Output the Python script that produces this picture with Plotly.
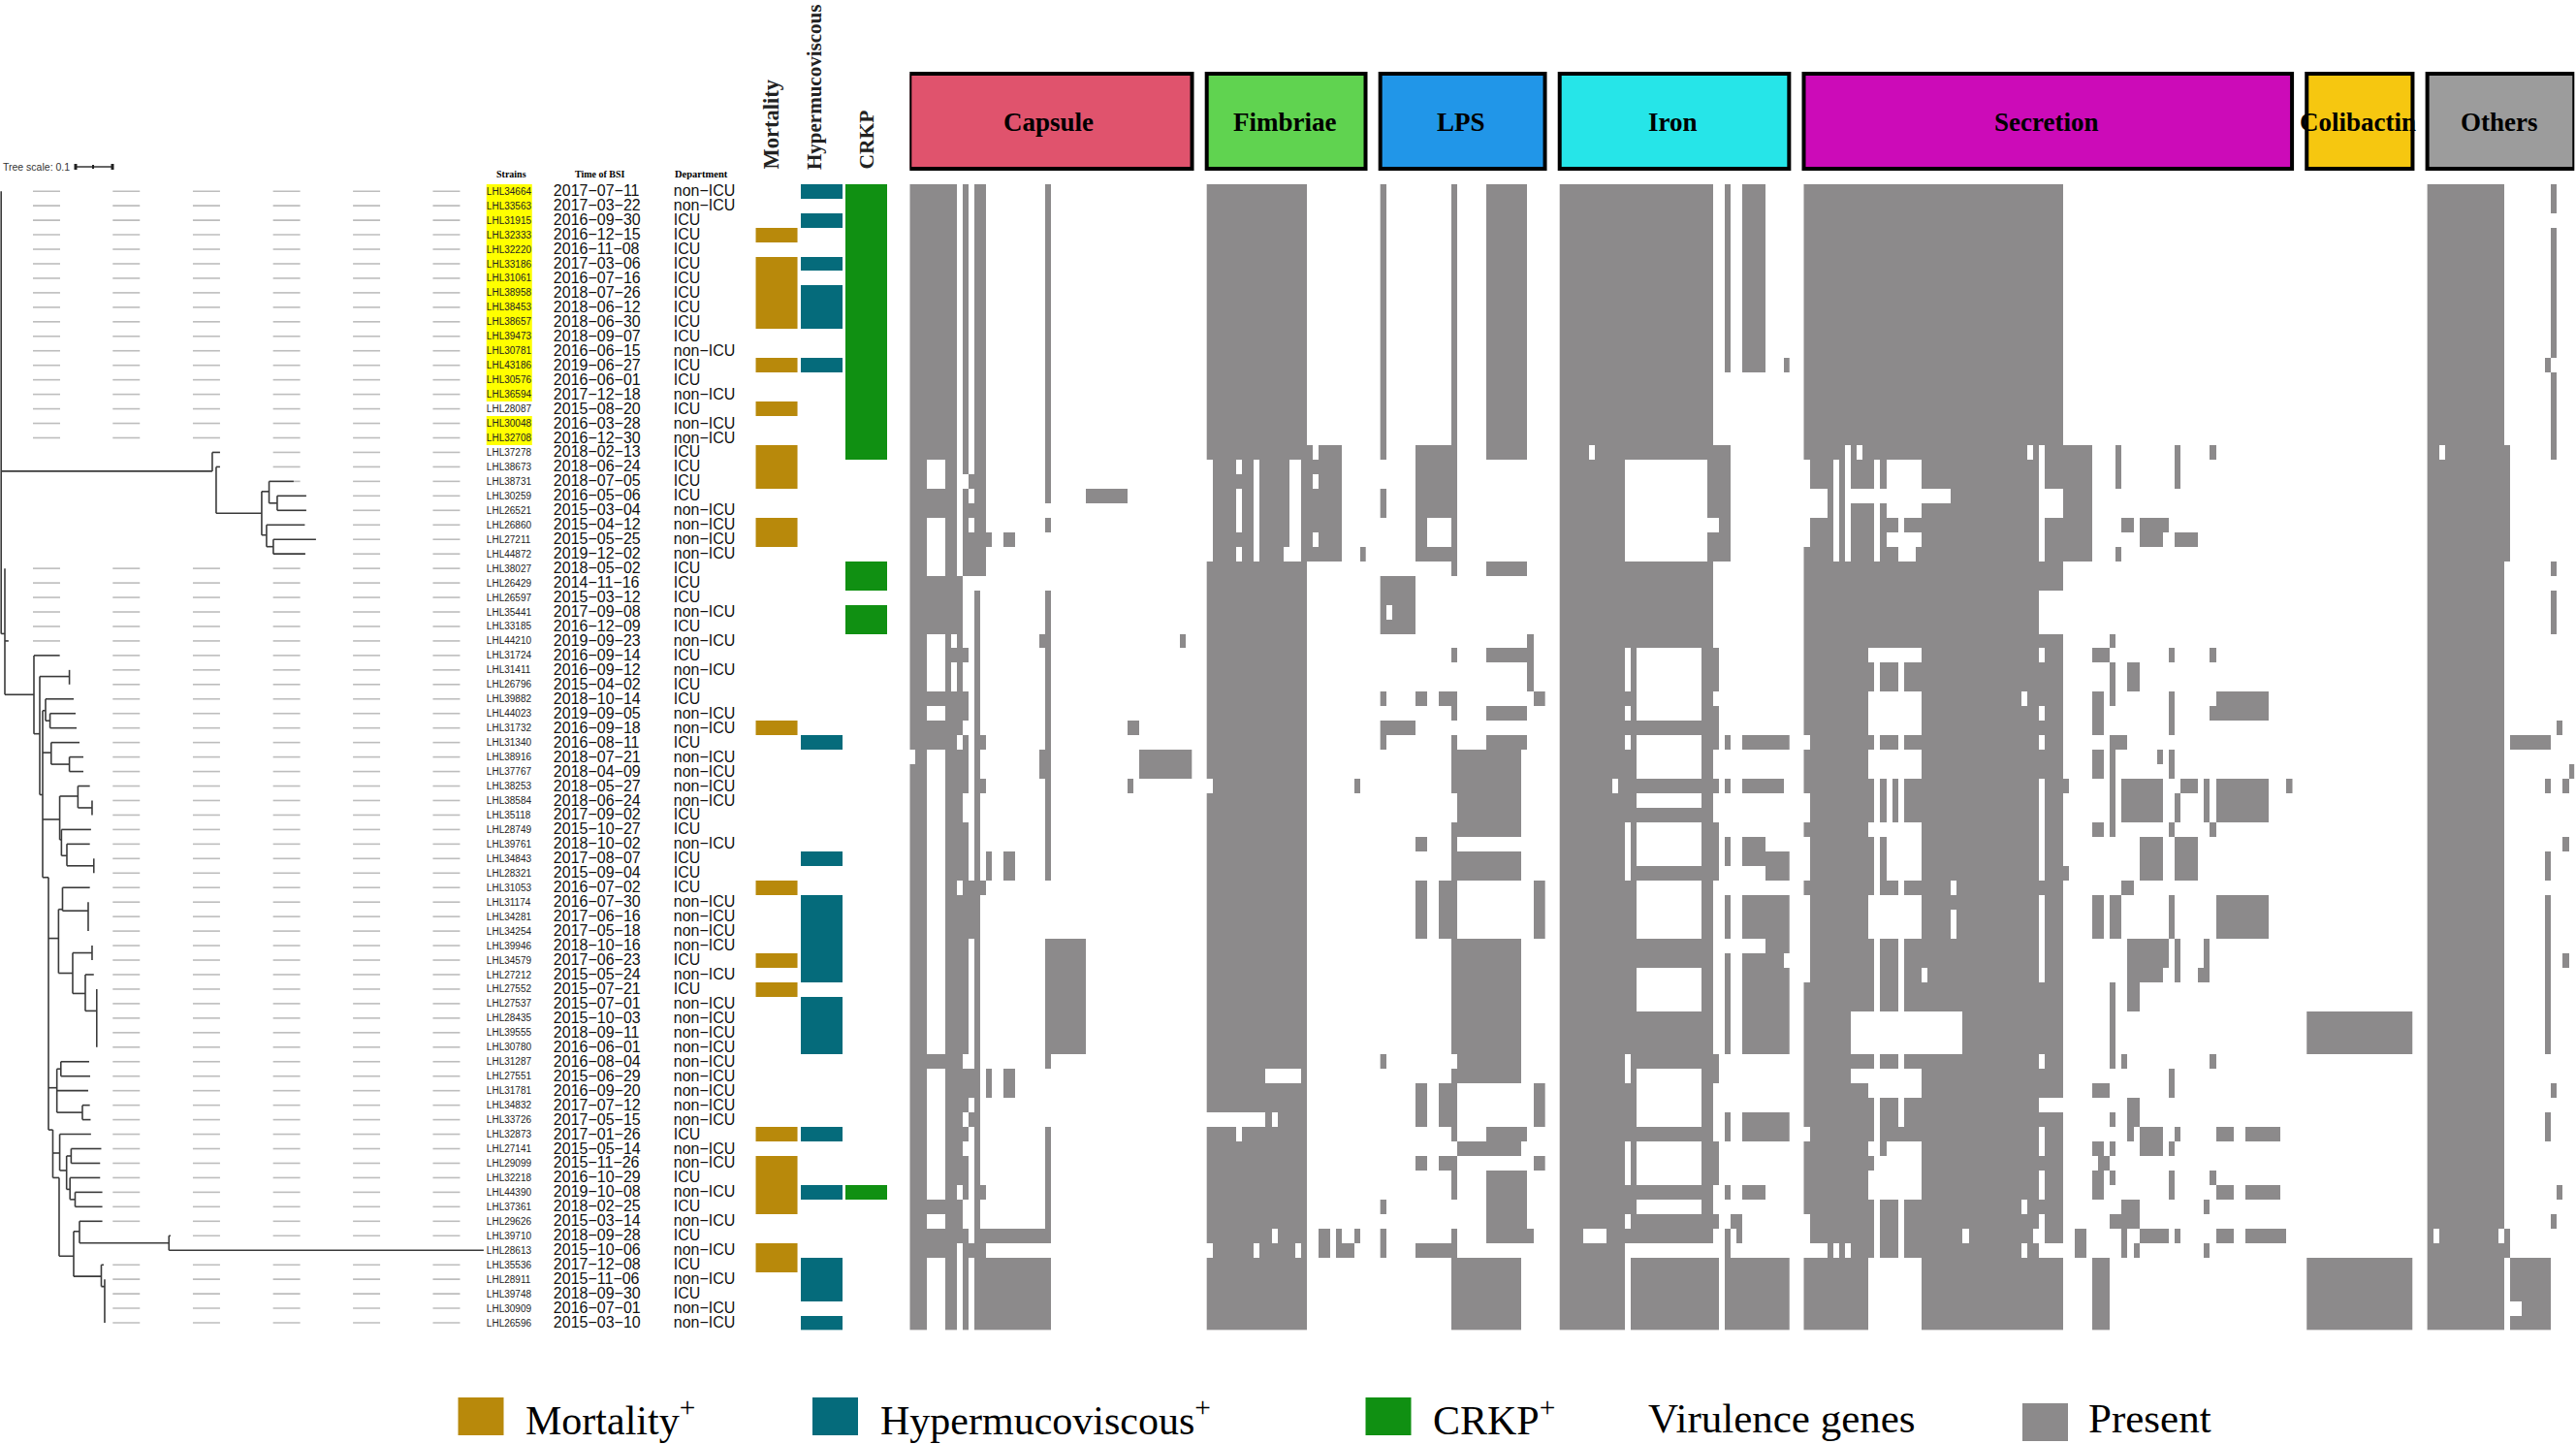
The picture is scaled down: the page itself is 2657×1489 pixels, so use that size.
import plotly.graph_objects as go

W, H = 2657, 1489

STRAINS = """LHL34664 LHL33563 LHL31915 LHL32333 LHL32220 LHL33186 LHL31061 LHL38958 LHL38453 LHL38657
LHL39473 LHL30781 LHL43186 LHL30576 LHL36594 LHL28087 LHL30048 LHL32708 LHL37278 LHL38673
LHL38731 LHL30259 LHL26521 LHL26860 LHL27211 LHL44872 LHL38027 LHL26429 LHL26597 LHL35441
LHL33185 LHL44210 LHL31724 LHL31411 LHL26796 LHL39882 LHL44023 LHL31732 LHL31340 LHL38916
LHL37767 LHL38253 LHL38584 LHL35118 LHL28749 LHL39761 LHL34843 LHL28321 LHL31053 LHL31174
LHL34281 LHL34254 LHL39946 LHL34579 LHL27212 LHL27552 LHL27537 LHL28435 LHL39555 LHL30780
LHL31287 LHL27551 LHL31781 LHL34832 LHL33726 LHL32873 LHL27141 LHL29099 LHL32218 LHL44390
LHL37361 LHL29626 LHL39710 LHL28613 LHL35536 LHL28911 LHL39748 LHL30909 LHL26596""".split()

DATES = """2017-07-11 2017-03-22 2016-09-30 2016-12-15 2016-11-08 2017-03-06 2016-07-16 2018-07-26 2018-06-12 2018-06-30
2018-09-07 2016-06-15 2019-06-27 2016-06-01 2017-12-18 2015-08-20 2016-03-28 2016-12-30 2018-02-13 2018-06-24
2018-07-05 2016-05-06 2015-03-04 2015-04-12 2015-05-25 2019-12-02 2018-05-02 2014-11-16 2015-03-12 2017-09-08
2016-12-09 2019-09-23 2016-09-14 2016-09-12 2015-04-02 2018-10-14 2019-09-05 2016-09-18 2016-08-11 2018-07-21
2018-04-09 2018-05-27 2018-06-24 2017-09-02 2015-10-27 2018-10-02 2017-08-07 2015-09-04 2016-07-02 2016-07-30
2017-06-16 2017-05-18 2018-10-16 2017-06-23 2015-05-24 2015-07-21 2015-07-01 2015-10-03 2018-09-11 2016-06-01
2016-08-04 2015-06-29 2016-09-20 2017-07-12 2017-05-15 2017-01-26 2015-05-14 2015-11-26 2016-10-29 2019-10-08
2018-02-25 2015-03-14 2018-09-28 2015-10-06 2017-12-08 2015-11-06 2018-09-30 2016-07-01 2015-03-10""".split()

DEPARTMENT_ICU = [2, 3, 4, 5, 6, 7, 8, 9, 10, 12, 13, 15, 18, 19, 20, 21, 26, 27, 28, 30, 32, 34, 35, 38,
                  43, 44, 46, 47, 48, 53, 55, 65, 68, 70, 72, 74, 76]

HIGHLIGHTED = list(range(15)) + [16, 17]
MORTALITY = [3, 5, 6, 7, 8, 9, 12, 15, 18, 19, 20, 23, 24, 37, 48, 53, 55, 65, 67, 68, 69, 70, 73, 74]
HYPERMUCOVISCOUS = [0, 2, 5, 7, 8, 9, 12, 38, 46, 49, 50, 51, 52, 53, 54, 56, 57, 58, 59, 65, 69, 74, 75, 76, 78]
CRKP = list(range(19)) + [26, 27, 29, 30, 69]

# gene-presence runs: (first gene, last gene + 1, first strain, last strain + 1)
CAPSULE_PRESENT = [(0,1,0,39),(0,1,40,79),(1,3,0,79),(3,6,0,19),(3,6,21,23),(3,6,27,31),(3,6,35,36),(3,6,37,39),
    (3,6,60,61),(3,6,70,71),(3,6,72,74),(6,7,0,79),(7,8,0,31),(7,8,32,33),(7,8,35,79),(8,9,27,38),(8,9,39,48),
    (8,9,49,69),(8,9,70,73),(9,10,0,20),(9,10,21,27),(9,10,32,33),(9,10,35,37),(9,10,38,42),(9,10,44,60),
    (9,10,61,64),(9,10,65,66),(9,10,67,70),(9,10,72,79),(10,11,20,21),(10,11,22,23),(10,11,24,27),(10,11,48,52),
    (10,11,61,63),(10,11,64,65),(10,11,73,74),(11,12,0,27),(11,12,28,79),(12,13,0,27),(12,13,38,39),(12,13,41,42),
    (12,13,48,49),(12,13,69,70),(12,24,72,73),(12,13,73,74),(11,24,74,79),(13,14,24,25),(13,14,46,48),(13,14,61,63),
    (16,18,24,25),(16,18,46,48),(16,18,61,63),(22,23,31,32),(22,23,39,41),(23,24,0,22),(23,24,23,24),(23,24,28,48),
    (23,30,52,60),(23,24,60,61),(23,24,65,72),(30,37,21,22),(37,39,37,38),(39,48,39,41),(37,38,41,42),(46,47,31,32)]
CAPSULE_ABSENT = []

FIMBRIAE_PRESENT = [(0,17,0,79),(17,18,18,26),(18,19,19,20),(18,19,21,24),(18,19,25,26),(19,23,18,26),(26,27,25,26),
    (25,26,41,42),(19,21,72,74),(22,23,72,74),(23,25,73,74),(25,26,72,73)]
FIMBRIAE_ABSENT = [(0,1,19,26),(5,6,19,20),(5,6,21,24),(5,6,25,26),(8,9,19,26),(14,16,19,25),(13,16,25,26),(0,1,41,42),
    (10,16,61,62),(0,10,64,65),(11,12,64,65),(5,6,65,66),(11,12,72,73),(0,1,73,74),(8,9,73,74),(15,16,73,74)]

LPS_PRESENT = [(0,1,0,19),(0,1,21,23),(0,6,27,31),(12,13,0,18),(6,13,18,26),(12,13,26,27),(18,25,0,19),(18,25,26,27),
    (25,26,31,35),(12,13,32,33),(18,25,32,33),(0,1,35,36),(6,8,35,36),(10,13,35,36),(26,28,35,36),(12,13,36,37),
    (18,25,36,37),(0,6,37,38),(0,1,38,39),(12,13,38,39),(18,25,38,39),(13,24,39,45),(12,13,39,42),(12,13,44,48),
    (13,24,46,48),(6,8,45,46),(6,8,48,52),(10,13,48,52),(26,28,48,52),(13,24,52,62),(12,13,52,60),(12,13,61,62),
    (0,1,60,61),(6,8,62,65),(10,13,62,65),(26,28,62,65),(12,13,65,66),(18,25,65,66),(13,24,66,67),(6,8,67,68),
    (10,13,67,68),(26,28,67,68),(12,13,68,70),(18,25,68,72),(0,1,70,71),(0,1,72,74),(12,13,72,73),(18,26,72,73),
    (6,13,73,74),(12,24,74,79)]
LPS_ABSENT = [(1,2,29,30),(8,12,23,25)]

IRON_PRESENT = [(0,26,0,79),(26,27,18,26),(26,27,32,35),(26,27,36,39),(26,27,41,42),(26,27,44,48),(26,27,60,62),
    (26,27,66,69),(26,27,71,72),(26,27,74,79),(27,29,18,26),(28,29,0,13),(31,35,0,13),(38,39,12,13),(28,29,38,39),
    (28,29,41,42),(28,29,45,47),(28,29,49,52),(28,29,53,60),(28,29,64,66),(28,29,69,70),(28,29,72,79),(29,30,71,72),
    (30,31,71,73),(29,39,74,79),(31,39,38,39),(31,38,41,42),(31,35,45,46),(31,39,46,47),(35,39,47,48),(31,39,49,52),
    (35,39,52,53),(31,38,53,54),(31,39,54,60),(31,39,64,66),(31,35,69,70)]
IRON_ABSENT = [(5,6,18,19),(11,25,19,26),(25,27,23,24),(11,12,32,35),(13,24,32,37),(11,12,36,37),(11,12,38,39),
    (13,24,38,41),(9,10,41,42),(13,24,42,43),(11,12,44,48),(13,24,44,47),(13,24,48,52),(13,24,54,57),(11,12,60,62),
    (13,24,61,65),(11,12,66,69),(13,24,66,69),(13,24,70,71),(11,12,71,72),(4,8,72,73),(11,26,73,74),(11,12,74,79)]

SECRETION_PRESENT = [(0,44,0,79),(44,49,18,26),(53,54,18,21),(63,64,18,21),(69,70,18,19),(54,56,23,24),(57,62,23,24),
    (57,61,24,25),(63,67,24,25),(53,54,25,26),(52,53,31,32),(49,52,32,33),(62,63,32,33),(69,70,32,33),(52,53,33,36),
    (55,57,33,35),(49,51,35,38),(62,63,35,38),(70,79,35,36),(69,79,36,37),(52,55,38,39),(49,51,39,41),(52,53,39,45),
    (60,61,39,40),(62,63,39,41),(44,45,41,42),(54,61,41,44),(64,67,41,42),(68,69,41,44),(70,79,41,44),(82,83,41,42),
    (63,64,42,44),(49,51,44,45),(62,63,44,45),(69,70,44,45),(57,61,45,48),(63,67,45,48),(44,45,47,48),(54,56,48,49),
    (49,51,49,52),(52,54,49,52),(62,63,49,52),(70,79,49,52),(55,62,52,54),(55,61,54,55),(63,64,52,55),(68,69,52,55),
    (67,68,54,55),(52,53,55,61),(55,57,55,57),(54,55,60,61),(69,70,60,61),(62,63,61,63),(49,52,62,63),(55,57,63,65),
    (52,53,64,65),(55,56,65,66),(57,61,65,66),(63,64,65,66),(70,73,65,66),(75,81,65,66),(49,51,66,67),(52,53,66,67),
    (57,61,66,67),(62,63,66,67),(50,52,67,68),(49,51,68,70),(52,53,68,69),(62,63,68,70),(69,70,68,69),(70,73,69,70),
    (75,81,69,70),(54,57,70,71),(68,69,70,71),(52,57,71,72),(46,48,72,74),(54,55,72,74),(57,62,72,73),(63,64,72,73),
    (70,73,72,73),(75,82,72,73),(56,57,73,74),(68,69,73,74),(49,52,74,79)]
SECRETION_ABSENT = [(0,1,19,25),(0,1,38,39),(0,1,42,44),(0,1,45,48),(0,1,49,55),(0,1,65,66),(0,1,71,74),(1,4,21,23),
    (1,4,73,74),(5,6,19,26),(5,6,73,74),(7,8,18,26),(7,8,73,74),(9,10,18,19),(7,25,21,22),(11,20,32,33),(11,20,35,38),
    (11,20,39,41),(11,20,44,45),(11,20,49,52),(11,20,62,63),(11,20,68,70),(11,20,74,79),(8,20,61,62),(8,27,57,60),
    (12,13,19,26),(12,13,33,35),(12,13,38,39),(12,13,41,44),(12,13,45,49),(12,13,52,57),(12,13,60,61),(12,13,63,68),
    (12,13,70,74),(16,17,23,24),(16,17,33,35),(16,17,38,39),(16,17,41,44),(16,17,48,49),(16,17,52,57),(16,17,60,61),
    (16,17,63,65),(16,17,70,74),(14,20,19,21),(14,20,22,23),(14,20,24,25),(14,20,45,48),(14,20,66,68),(13,14,67,68),
    (11,12,66,67),(16,19,25,26),(14,15,41,44),(20,21,54,55),(25,26,48,49),(25,26,50,52),(27,28,72,73),(37,38,35,36),
    (37,38,70,71),(37,38,73,74),(38,39,18,19),(39,41,72,73),(40,41,18,26),(40,41,32,33),(40,41,36,37),(40,41,38,39),
    (40,41,41,48),(40,41,49,55),(40,41,60,61),(40,41,65,67),(40,41,68,70),(40,41,71,72),(40,44,21,23),(40,44,28,31),
    (40,44,63,64),(40,44,73,74)]

COLIBACTIN_PRESENT = [(0,18,57,60),(0,18,74,79)]
COLIBACTIN_ABSENT = []

OTHERS_PRESENT = [(0,13,0,79),(13,14,18,26),(13,14,72,74),(14,21,74,79),(21,22,0,2),(21,22,3,12),(20,21,12,13),
    (21,22,13,19),(21,22,26,27),(21,22,28,31),(22,23,37,38),(14,21,38,39),(20,21,41,42),(23,24,41,42),(24,25,40,41),
    (23,24,45,46),(20,21,46,48),(20,21,49,60),(23,24,53,54),(21,22,62,63),(20,21,64,66),(22,23,69,70),(21,22,71,72)]
OTHERS_ABSENT = [(2,3,18,19),(1,2,72,73),(12,13,72,73),(14,16,77,78)]

GROUPS = ["Capsule", "Fimbriae", "LPS", "Iron", "Secretion", "Colibactin", "Others"]
GROUP_GENES = [48, 27, 28, 39, 83, 18, 25]
GROUP_COLORS = ["#E0536D", "#60D350", "#2196E8", "#26E5E8", "#CC0BB8", "#F6C710", "#9C9C9C"]
GROUP_RUNS = [(CAPSULE_PRESENT, CAPSULE_ABSENT), (FIMBRIAE_PRESENT, FIMBRIAE_ABSENT), (LPS_PRESENT, LPS_ABSENT),
              (IRON_PRESENT, IRON_ABSENT), (SECRETION_PRESENT, SECRETION_ABSENT),
              (COLIBACTIN_PRESENT, COLIBACTIN_ABSENT), (OTHERS_PRESENT, OTHERS_ABSENT)]

# phylogeny: branch ends in tree units (380 units = 1 substitution per site), strain rows as fractions
TREE_H = [(19.8,1.2,219),(18.5,219,227),(19.5,223,227),(22.7,223,270),(21.2,270,277.6),(20.5,277.6,303),(22.0,277.6,286),
    (21.5,286,316),(22.5,286,316),(24.2,270,275),(23.5,275,314.5),(25.0,275,282),(24.5,282,326),(25.5,282,315),
    (31.0,1.2,5),(31.5,5,8.8),(35.2,5,35),(32.5,35,61.6),(37.9,35,41),(33.95,41,71.6),(42.1,41,44),(36.3,44,47),
    (35.5,47,76),(37.0,47,51.6),(36.5,51.6,78),(37.5,51.6,79),(39.2,44,52.8),(38.5,52.8,82),(40.0,52.8,71.6),
    (39.5,71.6,86),(40.5,71.6,86),(43.8,44,61.6),(42.2,61.6,80.4),(41.5,80.4,92.7),(43.0,80.4,95),(45.2,61.6,63.4),
    (44.5,63.4,93.9),(46.3,63.4,69),(45.5,69,92.7),(47.0,69,96.8),(47.8,44,50),(52.0,50,60.4),(50.0,60.4,64.5),
    (48.5,64.5,92.7),(50.1,64.5,91),(50.5,91,91),(54.4,60.4,75),(53.0,75,95),(55.8,75,88),(54.5,88,96.8),(57.0,88,99.8),
    (62.3,50,58.7),(61.0,58.7,62.8),(60.5,62.8,92),(61.5,62.8,93),(62.5,58.7,91),(64.0,58.7,85),(63.5,85,92.7),
    (64.5,85,93.5),(65.2,50,54.5),(66.8,54.5,61.6),(65.5,61.6,93.9),(68.0,61.6,68.7),(67.0,68.7,73.4),(66.5,73.4,104.5),
    (67.5,73.4,103.3),(69.3,68.7,72.2),(68.5,72.2,103.3),(70.0,72.2,77.5),(69.5,77.5,105.6),(70.5,77.5,105.6),
    (68.5,54.5,61),(73.9,61,76),(72.2,76,82),(71.5,82,105.6),(73.0,82,174.3),(72.5,174.3,176),(73.5,174.3,499),
    (75.3,76,104.5),(74.5,104.5,107),(76.0,104.5,108)]
TREE_V = [(1.2,0.5,31),(5,26.5,35.2),(219,18.5,19.8),(223,19.5,22.7),(270,21.2,24.2),(277.6,20.5,22),(286,21.5,22.5),
    (275,23.5,25),(282,24.5,25.5),(35,32.5,37.9),(41,33.95,42.1),(71.6,33.5,34.5),(44,36.3,47.8),(47,35.5,37),
    (51.6,36.5,37.5),(52.8,38.5,40),(71.6,39.5,40.5),(61.6,42.2,45.2),(80.4,41.5,43),(95,42.5,43.5),(63.4,44.5,46.3),
    (69,45.5,47),(96.8,46.5,47.5),(50,47.8,65.2),(60.4,50,54.4),(64.5,48.5,50.1),(91,49.5,51.5),(75,53,55.8),
    (95,52.5,53.5),(88,54.5,57),(99.8,55.5,59.5),(58.7,61,64),(62.8,60.5,61.5),(85,63.5,64.5),(54.5,65.2,68.5),
    (61.6,65.5,68),(68.7,67,69.3),(73.4,66.5,67.5),(72.2,68.5,70),(77.5,69.5,70.5),(61,68.5,73.9),(76,72.2,75.3),
    (82,71.5,73),(174.3,72.5,73.5),(104.5,74.5,76),(108,75.5,78.5)]
TIP_END = [1.2]*18 + [227,227,303,316,316,314.5,326,315] + [5]*5 + [8.8,61.6,71.6,71.6,76,78,79,82,86,86,92.7,95,95,93.9,
    92.7,96.8,96.8,92.7,91,91,91,95,95,96.8,99.8,99.8,99.8,99.8,99.8,92,93,91,92.7,93.5,93.9,104.5,103.3,103.3,105.6,
    105.6,105.6,176,499,107,108,108,108,108]
TREE_SCALE_BAR = (78, 116)

GRAY = "#8C8A8B"
TOP, BOTTOM = 189.7, 1371.5
HX0, HX1 = 938.3, 2655.3
GAP = 2.5
LEFT_COLS = [("Mortality", MORTALITY, "#B8890B", 801.5), ("Hypermucoviscous", HYPERMUCOVISCOUS, "#056B7B", 848),
             ("CRKP", CRKP, "#109012", 894)]


def px(x):
    return x / W


def py(y):
    return 1 - y / H


def matrix(n_genes, present, absent):
    z = [[0] * n_genes for _ in range(len(STRAINS))]
    for c0, c1, r0, r1 in present:
        for r in range(r0, r1):
            for c in range(c0, c1):
                z[r][c] = 1
    for c0, c1, r0, r1 in absent:
        for r in range(r0, r1):
            for c in range(c0, c1):
                z[r][c] = 0
    return z


fig = go.Figure()

# virulence gene matrix, one heat map per group
offset = 0
group_spans = []
for genes, (present, absent) in zip(GROUP_GENES, GROUP_RUNS):
    fig.add_trace(go.Heatmap(z=matrix(genes, present, absent), x0=offset + 0.5, dx=1, y0=0.5, dy=1,
                             colorscale=[[0, "rgba(255,255,255,0)"], [1, GRAY]], zmin=0, zmax=1, showscale=False,
                             hoverinfo="skip", xaxis="x", yaxis="y"))
    group_spans.append((offset, offset + genes))
    offset += genes + GAP
TOTAL = offset - GAP

# clinical strips
rows = len(STRAINS)
for name, members, color, center in LEFT_COLS:
    fig.add_trace(go.Heatmap(z=[[1 if r in members else 0] for r in range(rows)], x0=center, dx=43.5, y0=0.5, dy=1,
                             colorscale=[[0, "rgba(255,255,255,0)"], [1, color]], zmin=0, zmax=1, showscale=False,
                             hoverinfo="skip", xaxis="x2", yaxis="y", name=name))
fig.add_trace(go.Heatmap(z=[[1 if r in HIGHLIGHTED else 0] for r in range(rows)], x0=525.4, dx=47, y0=0.5, dy=1,
                         colorscale=[[0, "rgba(255,255,255,0)"], [1, "#FFFF00"]], zmin=0, zmax=1, showscale=False,
                         hoverinfo="skip", xaxis="x2", yaxis="y"))

# leaders
lx, ly = [], []
for r, tip in enumerate(TIP_END):
    for start in (34, 116.3, 199, 281.7, 364.2, 446.6):
        a, b = max(start, tip), start + 28
        if a < b and tip < 480:
            lx += [a, b, None]
            ly += [r + 0.5, r + 0.5, None]
fig.add_trace(go.Scatter(x=lx, y=ly, mode="lines", line=dict(color="#BDBDBD", width=1.6), hoverinfo="skip",
                         xaxis="x2", yaxis="y", showlegend=False))

# tree
tx, ty = [], []
for y, a, b in TREE_H:
    tx += [a, b, None]
    ty += [y, y, None]
for x, a, b in TREE_V:
    tx += [x, x, None]
    ty += [a, b, None]
fig.add_trace(go.Scatter(x=tx, y=ty, mode="lines", line=dict(color="#3A3A3A", width=1.6), hoverinfo="skip",
                         xaxis="x2", yaxis="y", showlegend=False))

# row labels
centers = [r + 0.57 for r in range(rows)]
fig.add_trace(go.Scatter(x=[502] * rows, y=centers, text=STRAINS, mode="text", textposition="middle right",
                         textfont=dict(family="Liberation Sans", size=10, color="#222222"), hoverinfo="skip",
                         cliponaxis=False, xaxis="x2", yaxis="y", showlegend=False))
fig.add_trace(go.Scatter(x=[571] * rows, y=centers, text=[d.replace("-", "\u2212") for d in DATES], mode="text",
                         textposition="middle right", textfont=dict(family="Liberation Sans", size=16, color="#111111"),
                         hoverinfo="skip", cliponaxis=False, xaxis="x2", yaxis="y", showlegend=False))
fig.add_trace(go.Scatter(x=[695] * rows, y=centers,
                         text=["ICU" if r in DEPARTMENT_ICU else "non\u2212ICU" for r in range(rows)], mode="text",
                         textposition="middle right", textfont=dict(family="Liberation Sans", size=16, color="#111111"),
                         hoverinfo="skip", cliponaxis=False, xaxis="x2", yaxis="y", showlegend=False))

shapes, annos = [], []


def text(x, y, s, size, family="Liberation Serif", xanchor="center", yanchor="middle", angle=0, color="#000000"):
    annos.append(dict(x=px(x), y=py(y), xref="paper", yref="paper", text=s, showarrow=False, textangle=angle,
                      xanchor=xanchor, yanchor=yanchor, font=dict(family=family, size=size, color=color)))


# gene group headers
scale = (HX1 - HX0) / TOTAL
for name, color, (a, b) in zip(GROUPS, GROUP_COLORS, group_spans):
    shapes.append(dict(type="rect", xref="x", yref="paper", x0=a, x1=b, y0=py(174), y1=py(76), fillcolor=color,
                       line=dict(color="#000000", width=4)))
    text(HX0 + scale * (a + b) / 2 - 2, 126, f"<b>{name}</b>", 27)

# column headers
text(527, 179, "<b>Strains</b>", 10)
text(619, 179, "<b>Time of BSI</b>", 10)
text(723, 179, "<b>Department</b>", 10.5)
text(795, 177, "<b>Mortality</b>", 22.5, yanchor="bottom", angle=-90, color="#222222")
text(840, 177, "<b>Hypermucoviscous</b>", 21, yanchor="bottom", angle=-90, color="#222222")
text(894, 177, "<b>CRKP</b>", 21.5, yanchor="bottom", angle=-90, color="#222222")

# tree scale
text(1, 172, "Tree scale: 0.1", 10.5, family="Liberation Sans", xanchor="left", color="#333333")
a, b = TREE_SCALE_BAR
shapes.append(dict(type="line", xref="paper", yref="paper", x0=px(a), x1=px(b), y0=py(172), y1=py(172),
                   line=dict(color="#333333", width=1.5)))
for c, half in ((a, 2), (b, 2), ((a + b) / 2 - 1, 1)):
    shapes.append(dict(type="rect", xref="paper", yref="paper", x0=px(c - half / 2 - 0.5), x1=px(c + half / 2 + 0.5),
                       y0=py(172 + half + 1), y1=py(172 - half - 1), fillcolor="#222222", line=dict(width=0)))

# legend
for x0, color, y0, y1 in ((472.5, "#B8890B", 1441, 1480), (838, "#056B7B", 1441, 1480), (1408.5, "#109012", 1441, 1480),
                          (2086, "#8C8A8B", 1447, 1486)):
    shapes.append(dict(type="rect", xref="paper", yref="paper", x0=px(x0), x1=px(x0 + 47), y0=py(y1), y1=py(y0),
                       fillcolor=color, line=dict(width=0)))
text(540, 1461, "Mortality<sup>+</sup>", 42, xanchor="left")
text(906, 1461, "Hypermucoviscous<sup>+</sup>", 42, xanchor="left")
text(1476, 1461, "CRKP<sup>+</sup>", 42, xanchor="left")
text(1698, 1462, "Virulence genes", 43, xanchor="left")
text(2152, 1462, "Present", 43, xanchor="left")

hidden = dict(visible=False, fixedrange=True)
fig.update_layout(
    width=W, height=H, autosize=False, margin=dict(l=0, r=0, t=0, b=0), paper_bgcolor="white", plot_bgcolor="white",
    showlegend=False, shapes=shapes, annotations=annos,
    xaxis=dict(domain=[px(HX0), px(HX1)], range=[0, TOTAL], anchor="y", **hidden),
    xaxis2=dict(domain=[0, px(HX0) - 0.0001], range=[0, HX0], anchor="y", **hidden),
    yaxis=dict(domain=[py(BOTTOM), py(TOP)], range=[rows, 0], **hidden),
)

fig.write_html("out.html", config={"displayModeBar": False},
               post_script="document.body.style.margin='0';document.documentElement.style.overflow='hidden';")
